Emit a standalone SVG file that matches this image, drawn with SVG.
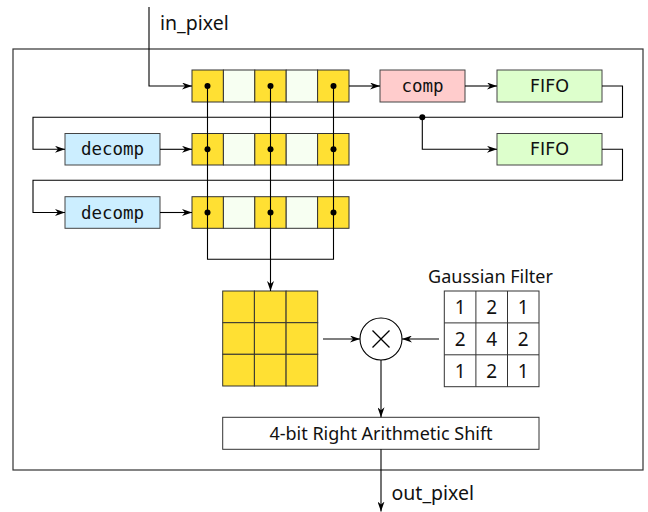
<svg xmlns="http://www.w3.org/2000/svg" width="648" height="512" viewBox="0 0 648 512">
<defs>
<marker id="ah" markerWidth="10" markerHeight="7" refX="10" refY="3.5" orient="auto" markerUnits="userSpaceOnUse">
<path d="M0,0 L10,3.5 L0,7 L3,3.5 z" fill="#000"/>
</marker>
<style>
.frame{fill:#fff;stroke:#333;stroke-width:1.2}
.y{fill:#FFE033;stroke:#333;stroke-width:1}
.w{fill:#F7FFF2;stroke:#333;stroke-width:1}
.comp{fill:#FFCCCC;stroke:#444;stroke-width:1}
.fifo{fill:#DDFFCC;stroke:#444;stroke-width:1}
.dec{fill:#CCEEFF;stroke:#444;stroke-width:1}
.box{fill:#fff;stroke:#333;stroke-width:1}
.ln{fill:none;stroke:#000;stroke-width:1.1}
.arr{fill:none;stroke:#000;stroke-width:1.1;marker-end:url(#ah)}
.mono{font-family:"DejaVu Sans Mono",monospace;font-size:17.5px;fill:#111;text-anchor:middle;dominant-baseline:central}
.dv{font-family:"DejaVu Sans",sans-serif;font-size:17.5px;fill:#111;text-anchor:middle;dominant-baseline:central}
.t{font-family:"Noto Sans",sans-serif;font-size:18px;fill:#111}
.io{font-size:19.5px}
.num{font-size:19px}
.c{text-anchor:middle}
</style>
</defs>
<rect id="frame" class="frame" x="13" y="49" width="630" height="421"/>

<g id="reg1">
<rect class="y" x="192" y="70" width="31.4" height="32"/>
<rect class="w" x="223.4" y="70" width="31.4" height="32"/>
<rect class="y" x="254.8" y="70" width="31.4" height="32"/>
<rect class="w" x="286.2" y="70" width="31.4" height="32"/>
<rect class="y" x="317.6" y="70" width="31.4" height="32"/>
</g>
<g id="reg2">
<rect class="y" x="192" y="133.5" width="31.4" height="31.5"/>
<rect class="w" x="223.4" y="133.5" width="31.4" height="31.5"/>
<rect class="y" x="254.8" y="133.5" width="31.4" height="31.5"/>
<rect class="w" x="286.2" y="133.5" width="31.4" height="31.5"/>
<rect class="y" x="317.6" y="133.5" width="31.4" height="31.5"/>
</g>
<g id="reg3">
<rect class="y" x="192" y="196.7" width="31.4" height="31.6"/>
<rect class="w" x="223.4" y="196.7" width="31.4" height="31.6"/>
<rect class="y" x="254.8" y="196.7" width="31.4" height="31.6"/>
<rect class="w" x="286.2" y="196.7" width="31.4" height="31.6"/>
<rect class="y" x="317.6" y="196.7" width="31.4" height="31.6"/>
</g>
<g id="comp">
<rect class="comp" x="380" y="70" width="85" height="32"/>
<text class="mono" x="422.5" y="86">comp</text>
</g>
<g id="fifo1">
<rect class="fifo" x="497" y="70" width="105" height="32"/>
<text class="dv" x="549.5" y="86">FIFO</text>
</g>
<g id="fifo2">
<rect class="fifo" x="497" y="133.5" width="105" height="31.5"/>
<text class="dv" x="549.5" y="149.3">FIFO</text>
</g>
<g id="decomp1">
<rect class="dec" x="65" y="133.5" width="95" height="31.5"/>
<text class="mono" x="112.5" y="149.3">decomp</text>
</g>
<g id="decomp2">
<rect class="dec" x="65" y="196.7" width="95" height="31.6"/>
<text class="mono" x="112.5" y="212.5">decomp</text>
</g>
<g id="window">
<rect class="y" x="222.7" y="291" width="31.7" height="31.7"/>
<rect class="y" x="254.4" y="291" width="31.7" height="31.7"/>
<rect class="y" x="286.1" y="291" width="31.6" height="31.7"/>
<rect class="y" x="222.7" y="322.7" width="31.7" height="31.6"/>
<rect class="y" x="254.4" y="322.7" width="31.7" height="31.6"/>
<rect class="y" x="286.1" y="322.7" width="31.6" height="31.6"/>
<rect class="y" x="222.7" y="354.3" width="31.7" height="31.7"/>
<rect class="y" x="254.4" y="354.3" width="31.7" height="31.7"/>
<rect class="y" x="286.1" y="354.3" width="31.6" height="31.7"/>
</g>
<g id="mult">
<circle cx="381" cy="339" r="21" fill="#fff" stroke="#000" stroke-width="1.1"/>
<path d="M372.5,330.5 L389.5,347.5 M389.5,330.5 L372.5,347.5" stroke="#000" stroke-width="1.3" fill="none"/>
</g>
<g id="gauss">
<text class="t c" x="490.5" y="283">Gaussian Filter</text>
<rect class="box" x="444.3" y="291" width="94.7" height="95.7"/>
<path d="M475.9,291 V386.7 M507.5,291 V386.7 M444.3,322.9 H539 M444.3,354.8 H539" stroke="#333" stroke-width="1" fill="none"/>
<g class="t num c">
<text x="460.1" y="314">1</text><text x="491.7" y="314">2</text><text x="523.2" y="314">1</text>
<text x="460.1" y="345.9">2</text><text x="491.7" y="345.9">4</text><text x="523.2" y="345.9">2</text>
<text x="460.1" y="377.8">1</text><text x="491.7" y="377.8">2</text><text x="523.2" y="377.8">1</text>
</g>
</g>
<g id="shift">
<rect class="box" x="222.7" y="417.3" width="316.3" height="32"/>
<text class="t c" x="381" y="439.5">4-bit Right Arithmetic Shift</text>
</g>
<text id="in_pixel" class="t io" x="160" y="30">in_pixel</text>
<text id="out_pixel" class="t io" x="391.5" y="500">out_pixel</text>

<g id="connectors">
<path class="arr" d="M149,7 V86 H192"/>
<path class="arr" d="M349,86 H380"/>
<path class="arr" d="M465,86 H497"/>
<path class="arr" d="M602,86 H622.5 V117.3 H33 V149.3 H65"/>
<path class="arr" d="M422.3,117.3 V149.3 H497"/>
<path class="arr" d="M602,149.3 H622.5 V180.3 H33 V212.5 H65"/>
<path class="arr" d="M160,149.3 H192"/>
<path class="arr" d="M160,212.5 H192"/>
<path class="ln" d="M207.5,86 V259.3 H333.5 V86"/>
<path class="arr" d="M270.5,86 V291"/>
<path class="arr" d="M323,339 H360"/>
<path class="arr" d="M439,339 H402"/>
<path class="arr" d="M381,360 V417.3"/>
<path class="arr" d="M381,449.3 V511.5"/>
<g fill="#000">
<circle cx="422.3" cy="117.3" r="3"/>
<circle cx="207.5" cy="86" r="3"/><circle cx="270.5" cy="86" r="3"/><circle cx="333.5" cy="86" r="3"/>
<circle cx="207.5" cy="149.3" r="3"/><circle cx="270.5" cy="149.3" r="3"/><circle cx="333.5" cy="149.3" r="3"/>
<circle cx="207.5" cy="212.5" r="3"/><circle cx="270.5" cy="212.5" r="3"/><circle cx="333.5" cy="212.5" r="3"/>
</g>
</g>
</svg>
